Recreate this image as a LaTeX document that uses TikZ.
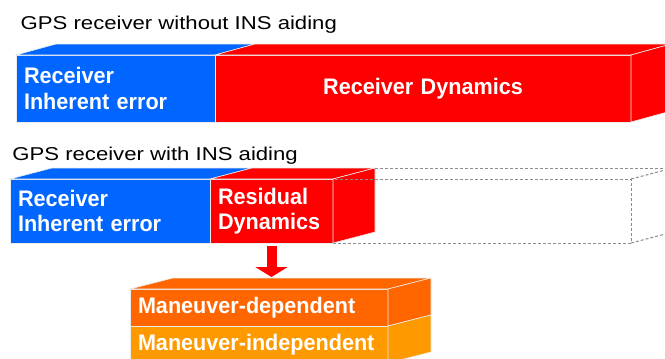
\documentclass[tikz,border=0pt]{standalone}
\usepackage{fontspec}
\setmainfont{Liberation Sans}
\newfontfamily\titlefont[FakeStretch=1.19]{Liberation Sans}
\newfontfamily\boxfont[FakeStretch=0.96]{Liberation Sans}
\usetikzlibrary{
    arrows.meta,
    positioning,
    calc
}
\definecolor{gpsblue}{RGB}{0,102,255}
\definecolor{gpsred}{RGB}{255,0,0}
\definecolor{mandark}{RGB}{255,102,0}
\definecolor{manlight}{RGB}{255,153,0}
\exhyphenpenalty=10000
\tikzstyle{title} = [
    anchor=base west,
    inner sep=0pt,
    font=\titlefont\fontsize{18.6}{26}\selectfont
]
\tikzstyle{face} = [
    rectangle,
    anchor=north west,
    draw=white!85!gray,
    line width=0.6pt,
    text=white,
    align=left,
    inner sep=8pt,
    outer sep=0pt,
    font=\boxfont\bfseries\fontsize{22.5}{25.5}\selectfont
]
\tikzstyle{depth} = [
    draw=white!85!gray,
    line width=0.6pt
]
\tikzstyle{ghost} = [
    draw=gray!90,
    dash pattern=on 3pt off 2pt,
    line width=1pt
]
\tikzstyle{push} = [
    -{Triangle[width=32pt,length=10pt]},
    line width=10pt,
    draw=gpsred
]

\begin{document}
\begin{tikzpicture}[x=1pt, y=-1pt]
        \clip (0,0) rectangle (665,359);

        % Without INS aiding
        \node[title] (title1) at (20.5,29.3) {GPS receiver without INS aiding};
        \node[face, fill=gpsblue, text width=183pt, minimum height=67pt] (inh1) at (16,55) {Receiver\\Inherent error};
        \node[face, fill=gpsred, text width=400pt, minimum height=67pt, align=center, right=0pt of inh1] (dyn1) {Receiver Dynamics};

        \draw[depth, fill=gpsblue] (inh1.north west) -- ++(40,-11) -- ($(inh1.north east)+(40,-11)$) -- (inh1.north east) -- cycle;
        \draw[depth, fill=gpsred] (dyn1.north west) -- ++(40,-11) -- ($(dyn1.north east)+(40,-11)$) -- (dyn1.north east) -- cycle;
        \draw[depth, fill=gpsred] (dyn1.north east) -- ++(40,-11) -- ($(dyn1.south east)+(40,-11)$) -- (dyn1.south east) -- cycle;

        % With INS aiding
        \node[title] (title2) at (12.2,160) {GPS receiver with INS aiding};
        \node[face, fill=gpsblue, text width=184pt, minimum height=64pt] (inh2) at (10,179) {Receiver\\Inherent error};
        \node[face, fill=gpsred, text width=107pt, minimum height=64pt, right=0pt of inh2] (res) {Residual\\Dynamics};

        \draw[depth, fill=gpsblue] (inh2.north west) -- ++(42,-11) -- ($(inh2.north east)+(42,-11)$) -- (inh2.north east) -- cycle;
        \draw[depth, fill=gpsred] (res.north west) -- ++(42,-11) -- ($(res.north east)+(42,-11)$) -- (res.north east) -- cycle;
        \draw[depth, fill=gpsred] (res.north east) -- ++(42,-11) -- ($(res.south east)+(42,-11)$) -- (res.south east) -- cycle;

        % Removed dynamics (dashed)
        \node[ghost, rectangle, inner sep=0pt, outer sep=0pt, minimum width=298pt, minimum height=64pt, right=0pt of res] (room) {};
        \draw[ghost] ($(res.north east)+(42,-11)$) -- ($(room.north east)+(42,-11)$);
        \draw[ghost] (room.north east) -- ++(42,-11);
        \draw[ghost] (room.south east) -- ++(42,-11);

        % Split of residual dynamics
        \node[face, fill=mandark, text width=242pt, minimum height=37pt] (dep) at (130,289) {Maneuver-dependent};
        \node[face, fill=manlight, text width=242pt, minimum height=37pt, below=0pt of dep] (indep) {Maneuver-independent};

        \draw[depth, fill=mandark] (dep.north west) -- ++(43,-11) -- ($(dep.north east)+(43,-11)$) -- (dep.north east) -- cycle;
        \draw[depth, fill=mandark] (dep.north east) -- ++(43,-11) -- ($(dep.south east)+(43,-11)$) -- (dep.south east) -- cycle;
        \draw[depth, fill=manlight] (indep.north east) -- ++(43,-11) -- ($(indep.south east)+(43,-11)$) -- (indep.south east) -- cycle;

        \draw[push] ([yshift=-3pt]res.south) -- ($(res.south |- dep.north)+(0,-12)$);
    \end{tikzpicture}
\end{document}
